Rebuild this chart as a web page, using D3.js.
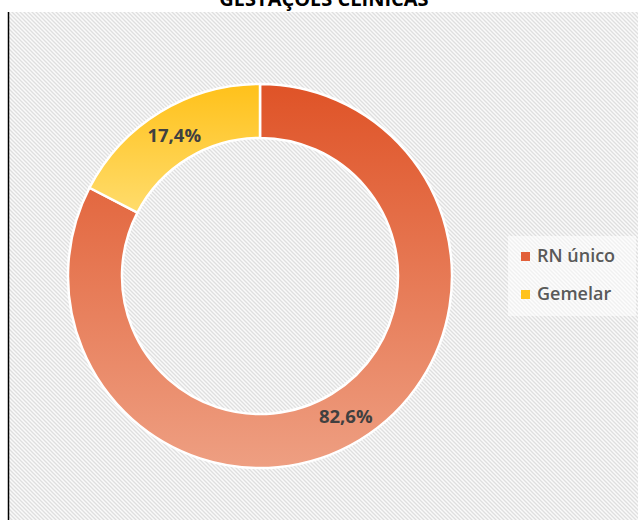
<!DOCTYPE html>
<meta charset="utf-8">
<head>
<style>
  body { margin: 0; background: #fff; }
  .title { font-family: "Open Sans", sans-serif; font-weight: 700; font-size: 20px; fill: #000; text-anchor: middle; }
  .pct { font-family: "Open Sans", sans-serif; font-weight: 700; font-size: 18.5px; fill: #404040; text-anchor: middle; }
  .legend text { font-family: "Open Sans", sans-serif; font-weight: 600; font-size: 18px; fill: #595959; }
</style>
<script src="https://d3js.org/d3.v7.min.js"></script>
</head>
<body>
<svg width="638" height="520"></svg>
<script>
// data
var categories = ["RN único", "Gemelar"];
var values = [82.6, 17.4];
var labels = ["82,6%", "17,4%"];

var svg = d3.select("svg"),
    width = +svg.attr("width"),
    height = +svg.attr("height");

var defs = svg.append("defs");

// hatched background
var pat = defs.append("pattern")
    .attr("id", "hatch")
    .attr("patternUnits", "userSpaceOnUse")
    .attr("width", 4).attr("height", 4);
pat.append("rect").attr("width", 4).attr("height", 4).attr("fill", "#fafafa");
pat.append("path")
    .attr("d", "M0,0 L4,4 M-1,3 L1,5 M3,-1 L5,1")
    .attr("stroke", "#dfdfdf")
    .attr("stroke-width", 1.3);

// slice gradients (top dark -> bottom light)
var grads = [["#df5327", "#ee9f82"], ["#ffc11a", "#ffdc6c"]];
grads.forEach(function(g, i) {
  var lg = defs.append("linearGradient")
      .attr("id", "grad" + i)
      .attr("x1", 0).attr("y1", 0).attr("x2", 0).attr("y2", 1);
  lg.append("stop").attr("offset", "0%").attr("stop-color", g[0]);
  lg.append("stop").attr("offset", "100%").attr("stop-color", g[1]);
});

// plot area
svg.append("rect")
    .attr("x", 8).attr("y", 12)
    .attr("width", width - 8).attr("height", height - 12)
    .attr("fill", "url(#hatch)");
svg.append("line")
    .attr("x1", 8.5).attr("x2", 8.5).attr("y1", 12).attr("y2", height)
    .attr("stroke", "#000").attr("stroke-width", 1.5);

// title (cut at top, as in the reference)
svg.append("text").attr("class", "title")
    .attr("x", 324).attr("y", 6)
    .text("GESTAÇÕES CLÍNICAS");

// donut
var cx = 260, cy = 276, R = 192, r = 138;
var pie = d3.pie().sort(null).value(function(d) { return d; });
var arc = d3.arc().innerRadius(r).outerRadius(R);
var arcs = pie(values);

var g = svg.append("g").attr("transform", "translate(" + cx + "," + cy + ")");
g.selectAll("path")
  .data(arcs)
  .enter().append("path")
    .attr("d", arc)
    .attr("fill", function(d, i) { return "url(#grad" + i + ")"; })
    .attr("stroke", "#fff")
    .attr("stroke-width", 2.5);

g.selectAll("text")
  .data(arcs)
  .enter().append("text")
    .attr("class", "pct")
    .attr("transform", function(d) { return "translate(" + arc.centroid(d) + ")"; })
    .attr("dy", "0.35em")
    .text(function(d, i) { return labels[i]; });

// legend
var leg = svg.append("g").attr("class", "legend").attr("transform", "translate(508,236)");
leg.append("rect").attr("width", 128).attr("height", 80).attr("fill", "#fff").attr("opacity", 0.55);
var legColors = ["#e2603a", "#ffc21c"];
var item = leg.selectAll(".item")
  .data(categories)
  .enter().append("g")
    .attr("class", "item")
    .attr("transform", function(d, i) { return "translate(0," + (20 + i * 38) + ")"; });
item.append("rect")
    .attr("x", 13).attr("y", -4)
    .attr("width", 9).attr("height", 9)
    .attr("fill", function(d, i) { return legColors[i]; });
item.append("text")
    .attr("x", 29).attr("y", 0)
    .attr("dy", "0.35em")
    .text(function(d) { return d; });
</script>
</body>
